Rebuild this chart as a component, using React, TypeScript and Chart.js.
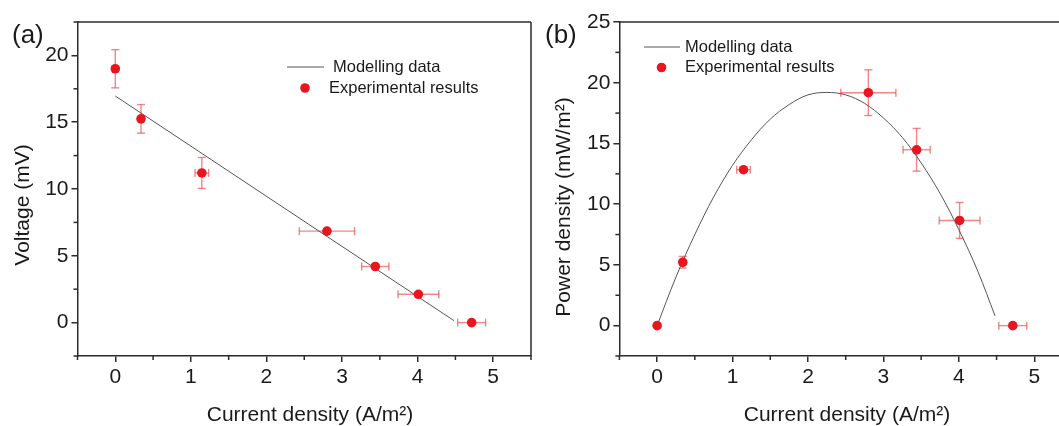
import React, { useEffect, useRef } from 'react';
import { Chart, registerables } from 'chart.js';

Chart.register(...registerables);

// ---------- data ----------
const currentDensity = [0, 0.34, 1.145, 2.8, 3.44, 4.01, 4.715];
const currentErr = [0, 0, 0.09, 0.365, 0.18, 0.27, 0.185];

const voltage = [19.0, 15.25, 11.2, 6.85, 4.2, 2.12, 0.0];
const voltageErr = [1.43, 1.07, 1.16, 0, 0, 0, 0];

const power = [0, 5.22, 12.84, 19.18, 14.48, 8.66, 0];
const powerErr = [0, 0.48, 0, 1.88, 1.76, 1.48, 0];

const voltageModelX = [0, 4.48];
const voltageModelY = [16.96, 0.15];

const powerModelX = [0, 0.25, 0.5, 0.75, 1, 1.25, 1.5, 1.75, 2, 2.25, 2.5, 2.75, 3, 3.25, 3.5, 3.75, 4, 4.25, 4.48];
const powerModelY = [0, 4.0, 7.5, 10.6, 13.2, 15.3, 17.0, 18.2, 19.0, 19.2, 19.0, 18.3, 17.1, 15.5, 13.4, 10.9, 7.9, 4.5, 0.8];

const xTicks = [0, 1, 2, 3, 4, 5];
const voltageTicks = [0, 5, 10, 15, 20];
const powerTicks = [0, 5, 10, 15, 20, 25];

const xTitle = 'Current density (A/m²)';
const legendLine = 'Modelling data';
const legendPoints = 'Experimental results';

// ---------- styles ----------
const FONT = "'Liberation Sans', Arial, Helvetica, sans-serif";
const AXIS_COLOR = '#2b2b2b';
const TEXT_COLOR = '#1a1a1a';
const POINT_COLOR = '#e8161e';
const ERR_COLOR = 'rgba(236, 70, 70, 0.65)';
const MODEL_COLOR = '#555555';

type Panel = {
  left: number;
  width: number;
  yAxisWidth: number;
  padRight: number;
  yMin: number;
  yMax: number;
  yTicks: number[];
  values: number[];
  errors: number[];
  modelX: number[];
  modelY: number[];
  tension: number;
  yTitle: string;
  yTitleX: number;
  yTitleY: number;
  xTitleX: number;
  label: string;
  labelX: number;
  legend: { l1: number; l2: number; ly1: number; t1: number; mx: number; ly2: number; t2: number };
};

const panels: Panel[] = [
  {
    left: 0,
    width: 540,
    yAxisWidth: 77.5,
    padRight: 9,
    yMin: -2.5,
    yMax: 22.5,
    yTicks: voltageTicks,
    values: voltage,
    errors: voltageErr,
    modelX: voltageModelX,
    modelY: voltageModelY,
    tension: 0,
    yTitle: 'Voltage (mV)',
    yTitleX: 23.5,
    yTitleY: 205,
    xTitleX: 310,
    label: '(a)',
    labelX: 12,
    legend: { l1: 287, l2: 324, ly1: 67, t1: 333, mx: 305, ly2: 88, t2: 329 },
  },
  {
    left: 540,
    width: 560,
    yAxisWidth: 79.4,
    padRight: 28,
    yMin: -2.5,
    yMax: 25,
    yTicks: powerTicks,
    values: power,
    errors: powerErr,
    modelX: powerModelX,
    modelY: powerModelY,
    tension: 0.35,
    yTitle: 'Power density (mW/m²)',
    yTitleX: 24.5,
    yTitleY: 207,
    xTitleX: 307,
    label: '(b)',
    labelX: 5,
    legend: { l1: 104, l2: 140, ly1: 47, t1: 145, mx: 121.5, ly2: 67.5, t2: 145 },
  },
];

function buildChart(canvas: HTMLCanvasElement, p: Panel) {
  const pts = currentDensity.map((x, i) => ({ x, y: p.values[i] }));
  const model = p.modelX.map((x, i) => ({ x, y: p.modelY[i] }));

  const seg = (ctx: CanvasRenderingContext2D, x1: number, y1: number, x2: number, y2: number) => {
    ctx.beginPath();
    ctx.moveTo(x1, y1);
    ctx.lineTo(x2, y2);
    ctx.stroke();
  };

  const overlay = {
    id: 'overlay',
    beforeDatasetsDraw(chart: any) {
      const { ctx } = chart;
      const xs = chart.scales.x;
      const ys = chart.scales.y;
      ctx.save();
      ctx.strokeStyle = ERR_COLOR;
      ctx.lineWidth = 1.4;
      const cap = 4;
      currentDensity.forEach((cx, i) => {
        const vy = p.values[i];
        const px = xs.getPixelForValue(cx);
        const py = ys.getPixelForValue(vy);
        const ey = p.errors[i];
        const ex = currentErr[i];
        if (ey > 0) {
          const t = ys.getPixelForValue(vy + ey);
          const b = ys.getPixelForValue(vy - ey);
          seg(ctx, px, t, px, b);
          seg(ctx, px - cap, t, px + cap, t);
          seg(ctx, px - cap, b, px + cap, b);
        }
        if (ex > 0) {
          const l = xs.getPixelForValue(cx - ex);
          const r = xs.getPixelForValue(cx + ex);
          seg(ctx, l, py, r, py);
          seg(ctx, l, py - cap, l, py + cap);
          seg(ctx, r, py - cap, r, py + cap);
        }
      });
      ctx.restore();
    },
    afterDraw(chart: any) {
      const { ctx, chartArea: a } = chart;
      const xs = chart.scales.x;
      const ys = chart.scales.y;
      ctx.save();
      // frame top / right
      ctx.strokeStyle = AXIS_COLOR;
      ctx.lineWidth = 1.5;
      seg(ctx, a.left, a.top, a.right, a.top);
      seg(ctx, a.right, a.top, a.right, a.bottom);
      // minor ticks
      const minorLen = 4;
      for (let v = -0.5; v <= 5.5 + 1e-9; v += 1) {
        const px = xs.getPixelForValue(v);
        seg(ctx, px, a.bottom, px, a.bottom + minorLen);
      }
      for (let v = p.yMin; v <= p.yMax + 1e-9; v += 5) {
        const py = ys.getPixelForValue(v);
        seg(ctx, a.left, py, a.left - minorLen, py);
      }
      // titles
      ctx.fillStyle = TEXT_COLOR;
      ctx.font = `21px ${FONT}`;
      ctx.textAlign = 'center';
      ctx.textBaseline = 'alphabetic';
      ctx.fillText(xTitle, p.xTitleX, 421);
      ctx.save();
      ctx.translate(p.yTitleX, p.yTitleY);
      ctx.rotate(-Math.PI / 2);
      ctx.textBaseline = 'middle';
      ctx.fillText(p.yTitle, 0, 0);
      ctx.restore();
      // panel label
      ctx.font = `26px ${FONT}`;
      ctx.textAlign = 'left';
      ctx.textBaseline = 'middle';
      ctx.fillText(p.label, p.labelX, 36);
      // legend
      const L = p.legend;
      ctx.strokeStyle = MODEL_COLOR;
      ctx.lineWidth = 1;
      seg(ctx, L.l1, L.ly1, L.l2, L.ly1);
      ctx.fillStyle = POINT_COLOR;
      ctx.beginPath();
      ctx.arc(L.mx, L.ly2, 4.8, 0, Math.PI * 2);
      ctx.fill();
      ctx.fillStyle = TEXT_COLOR;
      ctx.font = `16.5px ${FONT}`;
      ctx.fillText(legendLine, L.t1, L.ly1);
      ctx.fillText(legendPoints, L.t2, L.ly2);
      ctx.restore();
    },
  };

  return new Chart(canvas, {
    type: 'scatter',
    data: {
      datasets: [
        {
          label: legendPoints,
          data: pts,
          backgroundColor: POINT_COLOR,
          borderColor: POINT_COLOR,
          borderWidth: 0,
          pointRadius: 4.8,
        },
        {
          label: legendLine,
          type: 'line',
          data: model,
          showLine: true,
          borderColor: MODEL_COLOR,
          borderWidth: 1,
          pointRadius: 0,
          tension: p.tension,
          fill: false,
        } as any,
      ],
    },
    options: {
      responsive: false,
      animation: false,
      devicePixelRatio: 1,
      layout: { padding: { left: 0, top: 22, right: p.padRight, bottom: 0 } },
      plugins: { legend: { display: false }, tooltip: { enabled: false } },
      scales: {
        x: {
          type: 'linear',
          min: -0.5,
          max: 5.5,
          afterBuildTicks: (s: any) => {
            s.ticks = xTicks.map((v) => ({ value: v }));
          },
          afterFit: (s: any) => {
            s.height = 70;
          },
          grid: { drawOnChartArea: false, drawTicks: true, tickLength: 6, color: AXIS_COLOR, lineWidth: 1.5 },
          border: { display: true, color: AXIS_COLOR, width: 1.5 },
          ticks: {
            color: TEXT_COLOR,
            font: { family: FONT, size: 21 },
            padding: 3,
            maxRotation: 0,
            autoSkip: false,
            callback: (v: any) => String(v),
          },
        },
        y: {
          type: 'linear',
          min: p.yMin,
          max: p.yMax,
          afterBuildTicks: (s: any) => {
            s.ticks = p.yTicks.map((v) => ({ value: v }));
          },
          afterFit: (s: any) => {
            s.width = p.yAxisWidth;
          },
          grid: { drawOnChartArea: false, drawTicks: true, tickLength: 6, color: AXIS_COLOR, lineWidth: 1.5 },
          border: { display: true, color: AXIS_COLOR, width: 1.5 },
          ticks: {
            color: TEXT_COLOR,
            font: { family: FONT, size: 21 },
            padding: 3,
            autoSkip: false,
            callback: (v: any) => String(v),
          },
        },
      },
    },
    plugins: [overlay],
  });
}

function PanelChart({ p }: { p: Panel }) {
  const ref = useRef<HTMLCanvasElement | null>(null);
  useEffect(() => {
    if (!ref.current) return;
    const chart = buildChart(ref.current, p);
    return () => chart.destroy();
  }, [p]);
  return (
    <canvas
      ref={ref}
      width={p.width}
      height={426}
      style={{ position: 'absolute', left: p.left, top: 0, width: p.width, height: 426 }}
    />
  );
}

export default function App() {
  return (
    <div
      style={{
        position: 'absolute',
        left: 0,
        top: 0,
        width: 1059,
        height: 426,
        overflow: 'hidden',
        background: '#ffffff',
      }}
    >
      {panels.map((p) => (
        <PanelChart key={p.label} p={p} />
      ))}
    </div>
  );
}
